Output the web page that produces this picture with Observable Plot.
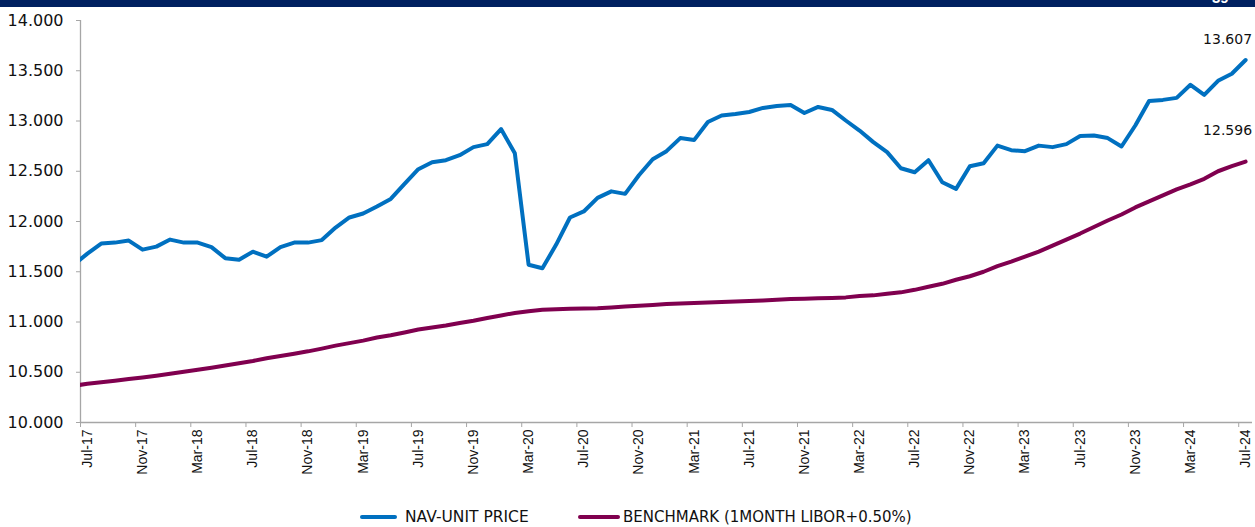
<!DOCTYPE html>
<html>
<head>
<meta charset="utf-8">
<script src="https://cdn.jsdelivr.net/npm/d3@7"></script>
<script src="https://cdn.jsdelivr.net/npm/@observablehq/plot@0.6"></script>
<style>
  html, body { margin: 0; padding: 0; background: #fff; }
  body { position: relative; width: 1255px; height: 527px; overflow: hidden; font-family: "DejaVu Sans", sans-serif; }
  #bar { position: absolute; left: 0; top: 0; width: 1255px; height: 7px; background: #002060; overflow: hidden; z-index: 2; }
  #bar span { position: absolute; left: 1212px; top: -11px; color: #fff; font: bold 15px "Liberation Sans", sans-serif; }
  #chart { position: absolute; left: 0; top: 0; }
  .legend { position: absolute; top: 508px; height: 18px; font-size: 15px; color: #111; line-height: 18px; white-space: nowrap; }
  .sw { position: absolute; top: 7px; height: 4px; border-radius: 2px; }
</style>
</head>
<body>
<div id="bar"><span>39</span></div>
<div id="chart"></div>
<div class="legend" style="left:360px;"><div class="sw" style="left:0;width:37px;background:#0070C0"></div><span style="position:absolute;left:45px;font-size:15.5px;">NAV-UNIT PRICE</span></div>
<div class="legend" style="left:578px;"><div class="sw" style="left:0;width:42px;background:#80004F"></div><span style="position:absolute;left:45px;">BENCHMARK (1MONTH LIBOR+0.50%)</span></div>
<script>
// Monthly categories, Jun-17 (just left of the axis, clipped) to Jul-24
const monthNames = ["Jan","Feb","Mar","Apr","May","Jun","Jul","Aug","Sep","Oct","Nov","Dec"];
const months = d3.range(86).map(k => monthNames[(5 + k) % 12] + "-" + (17 + Math.floor((5 + k) / 12)));

const navUnitPrice = [
  11.57, 11.68, 11.78, 11.79, 11.81, 11.72, 11.75, 11.82, 11.79, 11.79,
  11.745, 11.635, 11.62, 11.70, 11.65, 11.745, 11.79, 11.79, 11.815, 11.94,
  12.04, 12.08, 12.15, 12.225, 12.375, 12.52, 12.59, 12.61, 12.66, 12.74,
  12.77, 12.92, 12.68, 11.57, 11.535, 11.77, 12.04, 12.10, 12.235, 12.30,
  12.275, 12.46, 12.62, 12.70, 12.83, 12.81, 12.99, 13.055, 13.07, 13.09,
  13.13, 13.15, 13.16, 13.08, 13.14, 13.11, 13.005, 12.905, 12.79, 12.69,
  12.53, 12.49, 12.61, 12.39, 12.325, 12.55, 12.58, 12.755, 12.71, 12.70,
  12.755, 12.74, 12.77, 12.85, 12.856, 12.83, 12.746, 12.955, 13.20, 13.21,
  13.23, 13.36, 13.26, 13.40, 13.47, 13.607
];

const benchmark = [
  10.365, 10.385, 10.400, 10.415, 10.432, 10.448, 10.465, 10.485, 10.505, 10.525,
  10.545, 10.568, 10.590, 10.612, 10.640, 10.662, 10.685, 10.708, 10.735, 10.765,
  10.790, 10.815, 10.845, 10.868, 10.895, 10.925, 10.945, 10.965, 10.990, 11.012,
  11.040, 11.065, 11.090, 11.108, 11.122, 11.128, 11.132, 11.135, 11.138, 11.145,
  11.155, 11.162, 11.170, 11.178, 11.185, 11.190, 11.195, 11.200, 11.205, 11.210,
  11.215, 11.222, 11.228, 11.232, 11.236, 11.240, 11.245, 11.258, 11.265, 11.280,
  11.295, 11.320, 11.350, 11.380, 11.420, 11.455, 11.500, 11.555, 11.600, 11.650,
  11.700, 11.760, 11.820, 11.880, 11.945, 12.010, 12.070, 12.140, 12.200, 12.260,
  12.320, 12.370, 12.425, 12.500, 12.550, 12.596
];

const tickLabels = ["Jul-17","Nov-17","Mar-18","Jul-18","Nov-18","Mar-19","Jul-19","Nov-19","Mar-20","Jul-20","Nov-20",
  "Mar-21","Jul-21","Nov-21","Mar-22","Jul-22","Nov-22","Mar-23","Jul-23","Nov-23","Mar-24","Jul-24"];
const yTicks = [10, 10.5, 11, 11.5, 12, 12.5, 13, 13.5, 14];

const rows = months.map((m, k) => ({i: k - 1, month: m, nav: navUnitPrice[k], bench: benchmark[k]}));
const last = rows[rows.length - 1];
const labelIdx = tickLabels.map((_, j) => j * 4);
const gray = "#a6a6a6";

const chart = Plot.plot({
  width: 1255,
  height: 490,
  marginLeft: 80,
  marginRight: 3,
  marginTop: 20,
  marginBottom: 68,
  style: {fontFamily: "DejaVu Sans, sans-serif", background: "transparent", color: "#111"},
  x: {type: "linear", domain: [-0.5, 84.5], axis: null, label: null},
  y: {domain: [10, 14], axis: null, label: null},
  marks: [
    Plot.ruleY([10], {stroke: gray, strokeWidth: 1.3}),
    Plot.ruleX([-0.5], {y1: 10, y2: 14, stroke: gray, strokeWidth: 1.3}),
    Plot.axisY({ticks: yTicks, tickFormat: d3.format(".3f"), tickSize: 4, tickPadding: 13, stroke: gray, fontSize: 16, fill: "#111", label: null}),
    Plot.axisX({ticks: labelIdx.map(i => i - 0.5), tickSize: 5, tickFormat: () => "", stroke: gray, label: null}),
    Plot.axisX({ticks: labelIdx, tickSize: 0, tickPadding: 7, tickRotate: -90, tickFormat: i => tickLabels[Math.round(i / 4)],
      fontSize: 14, fontFamily: "Liberation Sans, Arial, sans-serif", fill: "#111", label: null}),
    Plot.line(rows, {x: "i", y: "bench", stroke: "#80004F", strokeWidth: 4, clip: true, strokeLinejoin: "round"}),
    Plot.line(rows, {x: "i", y: "nav", stroke: "#0070C0", strokeWidth: 4, clip: true, strokeLinejoin: "round"}),
    Plot.text([last], {x: "i", y: "nav", text: d => d3.format(".3f")(d.nav), dx: -18, dy: -20, fontSize: 14, fill: "#111"}),
    Plot.text([last], {x: "i", y: "bench", text: d => d3.format(".3f")(d.bench), dx: -18, dy: -31, fontSize: 14, fill: "#111"})
  ]
});
document.getElementById("chart").appendChild(chart);
</script>
</body>
</html>
